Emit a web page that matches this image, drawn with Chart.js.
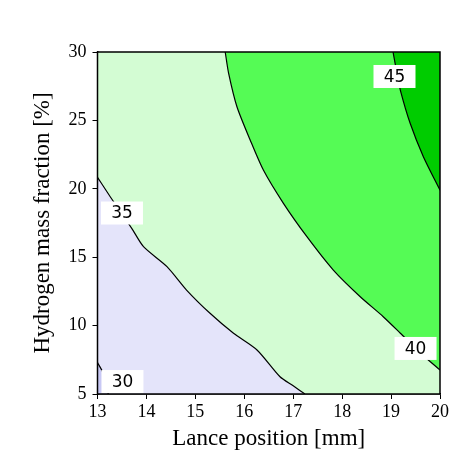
<!DOCTYPE html>
<html>
<head>
<meta charset="utf-8">
<script src="https://cdn.jsdelivr.net/npm/chart.js@4"></script>
<style>
  html, body { margin: 0; padding: 0; background: #fff; }
  #wrap { width: 467px; height: 471px; }
</style>
</head>
<body>
<div id="wrap"><canvas id="contourChart" width="467" height="471"></canvas></div>
<script>
// contour lines: lance position [mm] vs hydrogen mass fraction [%]
const xTicks = [13, 14, 15, 16, 17, 18, 19, 20];
const yTicks = [5, 10, 15, 20, 25, 30];

const c30x = [13, 13.12, 13.22];
const c30y = [7.3, 6.5, 5];

const c35x = [13, 13.26, 13.7, 13.94, 14.42, 14.82, 15.3, 15.78, 16.26, 16.73, 17.0, 17.24];
const c35y = [20.84, 19.42, 17.11, 15.77, 14.31, 12.6, 10.9, 9.44, 8.22, 6.26, 5.6, 5];

const c40x = [15.61, 15.68, 15.85, 16.12, 16.39, 16.8, 17.28, 17.82, 18.37, 18.84, 19.19, 19.6, 20];
const c40y = [30, 28.44, 26.0, 23.57, 21.37, 18.94, 16.5, 14.06, 12.11, 10.65, 9.44, 8.0, 6.75];

const c45x = [19.04, 19.12, 19.19, 19.39, 19.66, 20];
const c45y = [30, 28.44, 27.2, 24.79, 22.35, 19.9];

// contour level labels
const levelLabels = ["30", "35", "40", "45"];
const labelX = [13.51, 13.5, 19.5, 19.07];
const labelY = [5.91, 18.23, 8.33, 28.21];

function pts(xs, ys) {
  return xs.map((x, i) => ({ x: x, y: ys[i] }));
}

const serif = "'Liberation Serif', 'Times New Roman', serif";

// light green fill for the 35-40 band, as the plot background
const bandBackground = {
  id: "bandBackground",
  beforeDatasetsDraw(chart) {
    const a = chart.chartArea;
    const ctx = chart.ctx;
    ctx.save();
    ctx.fillStyle = "#d3fcd3";
    ctx.fillRect(a.left, a.top, a.right - a.left, a.bottom - a.top);
    ctx.restore();
  },
};

// white boxes with the level values, and the frame
const levelBoxes = {
  id: "levelBoxes",
  afterDatasetsDraw(chart) {
    const ctx = chart.ctx;
    const xs = chart.scales.x;
    const ys = chart.scales.y;
    ctx.save();
    ctx.font = "17px 'DejaVu Sans', sans-serif";
    ctx.textAlign = "center";
    ctx.textBaseline = "middle";
    levelLabels.forEach((t, i) => {
      const px = xs.getPixelForValue(labelX[i]);
      const py = ys.getPixelForValue(labelY[i]);
      ctx.fillStyle = "#fff";
      ctx.fillRect(px - 21, py - 11.5, 42, 23);
      ctx.fillStyle = "#000";
      ctx.fillText(t, px, py + 1);
    });
    const a = chart.chartArea;
    ctx.strokeStyle = "#000";
    ctx.lineWidth = 1.5;
    ctx.strokeRect(a.left, a.top, a.right - a.left, a.bottom - a.top);
    ctx.restore();
  },
};

const lineStyle = {
  showLine: true,
  pointRadius: 0,
  borderColor: "#000",
  borderWidth: 1.2,
  tension: 0.25,
};

// higher order is drawn first, so the inner levels sit on top
const ctx = document.getElementById("contourChart").getContext("2d");
const myChart = new Chart(ctx, {
  type: "scatter",
  data: {
    datasets: [
      Object.assign({ data: pts(c35x, c35y), fill: "start", backgroundColor: "#e4e4fa", order: 4 }, lineStyle),
      Object.assign({ data: pts(c30x, c30y), fill: "start", backgroundColor: "#c8c8f4", order: 3 }, lineStyle),
      Object.assign({ data: pts(c40x, c40y), fill: "end", backgroundColor: "#55fb55", order: 2 }, lineStyle),
      Object.assign({ data: pts(c45x, c45y), fill: "end", backgroundColor: "#00cc00", order: 1 }, lineStyle),
    ],
  },
  options: {
    responsive: false,
    animation: false,
    layout: { padding: { left: 10, right: 27, top: 52, bottom: 5 } },
    plugins: {
      legend: { display: false },
      tooltip: { enabled: false },
    },
    scales: {
      x: {
        type: "linear",
        min: 13,
        max: 20,
        afterBuildTicks: (scale) => { scale.ticks = xTicks.map((v) => ({ value: v })); },
        afterFit: (scale) => { scale.height = 72; },
        grid: { drawOnChartArea: false, tickLength: 5, color: "#000" },
        border: { color: "#000", width: 1.5 },
        ticks: { color: "#000", padding: 2, font: { family: serif, size: 18 } },
        title: {
          display: true,
          text: "Lance position [mm]",
          color: "#000",
          font: { family: serif, size: 23 },
          padding: { top: 0, bottom: 13 },
        },
      },
      y: {
        type: "linear",
        min: 5,
        max: 30,
        afterBuildTicks: (scale) => { scale.ticks = yTicks.map((v) => ({ value: v })); },
        afterFit: (scale) => { scale.width = 87.5; },
        grid: { drawOnChartArea: false, tickLength: 5, color: "#000" },
        border: { color: "#000", width: 1.5 },
        ticks: { color: "#000", padding: 6, font: { family: serif, size: 18 } },
        title: {
          display: true,
          text: "Hydrogen mass fraction [%]",
          color: "#000",
          font: { family: serif, size: 23 },
          padding: { top: 19, bottom: 0 },
        },
      },
    },
  },
  plugins: [bandBackground, levelBoxes],
});
</script>
</body>
</html>
